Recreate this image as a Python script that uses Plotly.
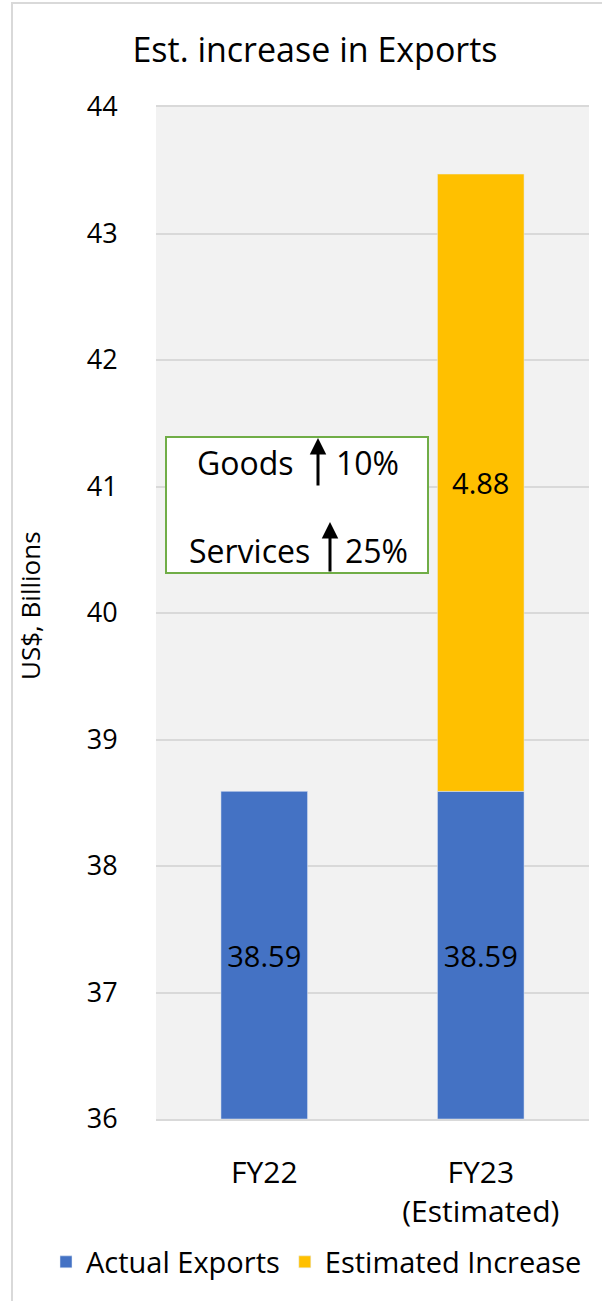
import plotly.graph_objects as go

categories = ["FY22", "FY23<br>(Estimated)"]
actual_exports = [38.59, 38.59]
estimated_increase = [None, 4.88]
y_ticks = [36, 37, 38, 39, 40, 41, 42, 43, 44]
axis_floor = 36

FONT = "Open Sans"
BLUE = "#4472C4"
YELLOW = "#FFC000"

fig = go.Figure()
fig.add_trace(go.Bar(
    name="Actual Exports", x=categories,
    y=[v - axis_floor for v in actual_exports], base=axis_floor,
    marker_color=BLUE, width=0.4,
    text=[f"{v:.2f}" for v in actual_exports], textposition="inside",
    insidetextanchor="middle", textfont=dict(color="black", size=29, family=FONT),
    hoverinfo="skip",
))
fig.add_trace(go.Bar(
    name="Estimated Increase", x=categories,
    y=estimated_increase, base=actual_exports,
    marker_color=YELLOW, width=0.4,
    text=[("" if v is None else f"{v:.2f}") for v in estimated_increase], textposition="inside",
    insidetextanchor="middle", textfont=dict(color="black", size=29, family=FONT),
    hoverinfo="skip",
))

L, R, T, B = 156, 13, 107, 182
W, H = 602, 1301
pw, ph = W - L - R, H - T - B

def px(x):
    return (x - L) / pw

def py(y):
    return (H - B - y) / ph

fig.update_layout(
    width=W, height=H,
    margin=dict(l=L, r=R, t=T, b=B, pad=0, autoexpand=False),
    paper_bgcolor="white", plot_bgcolor="#F2F2F2",
    barmode="overlay", showlegend=True,
    font=dict(family=FONT, color="black", size=26),
    title=dict(text="Est. increase in Exports", x=315 / W, xanchor="center",
               y=1 - 50 / H, yanchor="middle", font=dict(size=34, family=FONT)),
    legend=dict(orientation="h", x=px(46), xanchor="left", y=py(1262), yanchor="middle",
                font=dict(size=29, family=FONT), tracegroupgap=0,
                bgcolor="rgba(0,0,0,0)"),
    xaxis=dict(showgrid=False, ticks="outside", ticklen=26, tickcolor="rgba(0,0,0,0)",
               tickfont=dict(size=30), showline=True, mirror=True, linecolor="#D9D9D9",
               linewidth=2, zeroline=False, fixedrange=True, automargin=False),
    yaxis=dict(range=[36, 44], tickvals=y_ticks, ticks="outside", ticklen=32,
               tickcolor="rgba(0,0,0,0)", showgrid=True, gridcolor="#D9D9D9", gridwidth=2,
               zeroline=False, showline=False, tickfont=dict(size=27), fixedrange=True,
               automargin=False),
)

# outer chart border
fig.add_shape(type="rect", xref="paper", yref="paper",
              x0=px(12), x1=px(640), y0=py(1340), y1=py(3),
              line=dict(color="#D9D9D9", width=2), fillcolor="rgba(0,0,0,0)", layer="below")

# y axis title
fig.add_annotation(text="US$, Billions", xref="paper", yref="paper", x=px(30), y=py(606),
                   textangle=-90, showarrow=False, font=dict(size=26), xanchor="center", yanchor="middle")

# callout box
fig.add_shape(type="rect", xref="paper", yref="paper",
              x0=px(166), x1=px(428), y0=py(573), y1=py(437),
              line=dict(color="#70AD47", width=2), fillcolor="white", layer="above")

for txt, xc, yc in [("Goods", 245, 462), ("10%", 367, 462),
                    ("Services", 249, 550), ("25%", 376, 550)]:
    fig.add_annotation(text=txt, xref="paper", yref="paper", x=px(xc), y=py(yc),
                       showarrow=False, font=dict(size=32), xanchor="center", yanchor="middle")

for xa, ytip, ybot in [(318, 438, 487), (330, 522, 573)]:
    fig.add_annotation(text="", xref="paper", yref="paper", x=px(xa), y=py(ytip),
                       ax=0, ay=ybot - ytip, axref="pixel", ayref="pixel",
                       showarrow=True, arrowhead=2, arrowsize=1.1, arrowwidth=3, arrowcolor="black")

fig.write_html("out.html")
